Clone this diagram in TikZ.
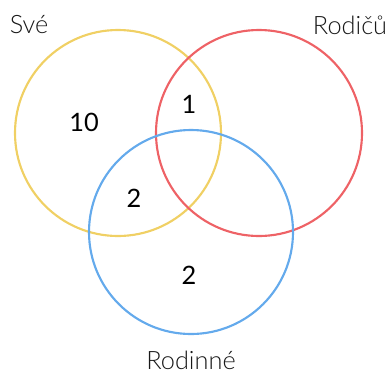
\documentclass[tikz,border=0pt]{standalone}
\usepackage{fontspec}
\setmainfont{Lato Light}
\newfontfamily\numfont{Lato}
\definecolor{cyellow}{RGB}{240,208,100}
\definecolor{cred}{RGB}{238,98,102}
\definecolor{cblue}{RGB}{100,170,236}
\begin{document}
\begin{tikzpicture}[x=0.75pt,y=-0.75pt,
  ring/.style={line width=1.6pt},
  setlabel/.style={font=\fontsize{19}{21}\selectfont,text=black!90,inner sep=0pt},
  count/.style={font=\numfont\fontsize{19}{21}\selectfont,text=black,inner sep=0pt}]
  \useasboundingbox (0,0) rectangle (391,372);
  \draw[ring,cyellow] (118,133) circle[radius=103];
  \draw[ring,cred] (259,133) circle[radius=103];
  \draw[ring,cblue] (191,232) circle[radius=102];
  \node[setlabel] (sve) at (29,25) {Své};
  \node[setlabel] (rodicu) at (350,25) {Rodičů};
  \node[setlabel,text depth=0pt,anchor=base] (rodinne) at (191,369) {Rodinné};
  \node[count] (n1) at (84,122) {10};
  \node[count] (n2) at (189,104) {1};
  \node[count] (n3) at (134,198) {2};
  \node[count] (n4) at (189,275) {2};
\end{tikzpicture}
\end{document}
